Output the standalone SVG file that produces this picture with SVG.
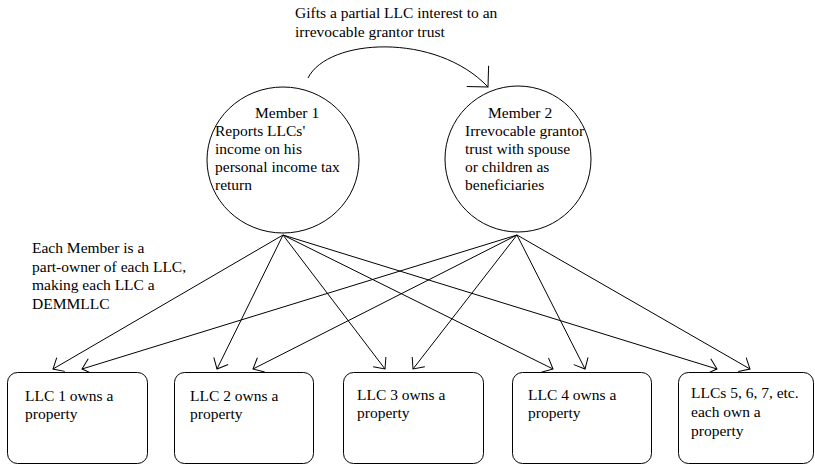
<svg xmlns="http://www.w3.org/2000/svg" width="815" height="466" viewBox="0 0 815 466">
<style>
text { font-family: "Liberation Serif", "Times New Roman", serif; font-size: 15.5px; fill: #000; }
.ln { fill: none; stroke: #000; stroke-width: 1; }
.node { fill: #fff; stroke: #000; stroke-width: 1; }
</style>
<defs>
<marker id="arr" viewBox="-12 -10 14 20" markerWidth="14" markerHeight="20" refX="0" refY="0" orient="auto" markerUnits="userSpaceOnUse">
<path d="M -9 -8 L 0 0 L -9 8" fill="none" stroke="#000" stroke-width="1"/>
</marker>
<marker id="arrBig" viewBox="-18 -18 20 36" markerWidth="20" markerHeight="36" refX="0" refY="0" orient="auto" markerUnits="userSpaceOnUse">
<path d="M -15 -15 L 0 0 L -15 15" fill="none" stroke="#000" stroke-width="1"/>
</marker>
</defs>
<rect width="815" height="466" fill="#fff"/>
<g id="connectors">
<path class="ln" d="M 308 78 C 328 38, 436 32, 488 87" marker-end="url(#arrBig)"/>
<line class="ln" x1="283" y1="235" x2="53" y2="369" marker-end="url(#arr)"/>
<line class="ln" x1="283" y1="235" x2="217" y2="369" marker-end="url(#arr)"/>
<line class="ln" x1="283" y1="235" x2="385" y2="369" marker-end="url(#arr)"/>
<line class="ln" x1="283" y1="235" x2="553" y2="369" marker-end="url(#arr)"/>
<line class="ln" x1="283" y1="235" x2="717" y2="369" marker-end="url(#arr)"/>
<line class="ln" x1="517" y1="235" x2="82" y2="369" marker-end="url(#arr)"/>
<line class="ln" x1="517" y1="235" x2="253" y2="369" marker-end="url(#arr)"/>
<line class="ln" x1="517" y1="235" x2="413" y2="369" marker-end="url(#arr)"/>
<line class="ln" x1="517" y1="235" x2="585" y2="369" marker-end="url(#arr)"/>
<line class="ln" x1="517" y1="235" x2="750" y2="369" marker-end="url(#arr)"/>
</g>
<g id="gift-label">
<text x="295" y="18">Gifts a partial LLC interest to an</text>
<text x="295" y="37">irrevocable grantor trust</text>
</g>
<g id="member1">
<ellipse class="node" cx="283" cy="160" rx="76" ry="73"/>
<text x="255" y="118">Member 1</text>
<text x="215" y="136">Reports LLCs'</text>
<text x="215" y="154">income on his</text>
<text x="215" y="172">personal income tax</text>
<text x="215" y="190">return</text>
</g>
<g id="member2">
<ellipse class="node" cx="518" cy="159" rx="73" ry="73"/>
<text x="488" y="118">Member 2</text>
<text x="465" y="136">Irrevocable grantor</text>
<text x="465" y="154">trust with spouse</text>
<text x="465" y="172">or children as</text>
<text x="465" y="190">beneficiaries</text>
</g>
<g id="note">
<text x="32" y="253">Each Member is a</text>
<text x="32" y="272">part-owner of each LLC,</text>
<text x="32" y="290">making each LLC a</text>
<text x="32" y="309">DEMMLLC</text>
</g>
<g id="llc1">
<rect class="node" x="7.5" y="372.5" width="140" height="91" rx="10"/>
<text x="25" y="401">LLC 1 owns a</text>
<text x="25" y="419">property</text>
</g>
<g id="llc2">
<rect class="node" x="174.5" y="372.5" width="139" height="91" rx="10"/>
<text x="190" y="401">LLC 2 owns a</text>
<text x="190" y="419">property</text>
</g>
<g id="llc3">
<rect class="node" x="343.5" y="372.5" width="140" height="91" rx="10"/>
<text x="357" y="400">LLC 3 owns a</text>
<text x="357" y="418">property</text>
</g>
<g id="llc4">
<rect class="node" x="512.5" y="372.5" width="139" height="91" rx="10"/>
<text x="528" y="400">LLC 4 owns a</text>
<text x="528" y="418">property</text>
</g>
<g id="llc5">
<rect class="node" x="678.5" y="372.5" width="135" height="91" rx="10"/>
<text x="691" y="398">LLCs 5, 6, 7, etc.</text>
<text x="691" y="417">each own a</text>
<text x="691" y="436">property</text>
</g>
</svg>
